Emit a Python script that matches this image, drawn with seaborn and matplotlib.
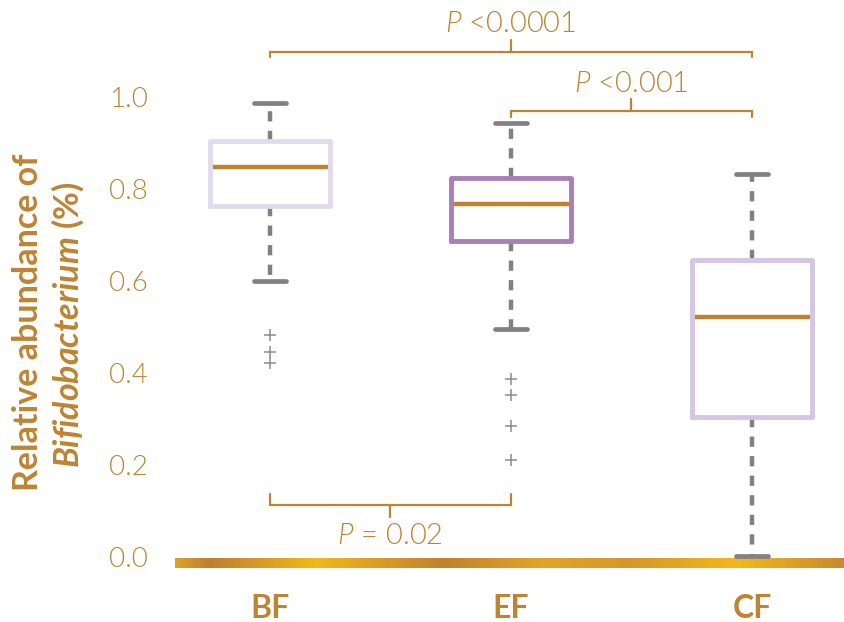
import numpy as np
import pandas as pd
import matplotlib
matplotlib.use("Agg")
import matplotlib.pyplot as plt
from matplotlib.colors import LinearSegmentedColormap
import seaborn as sns

# Five-number summaries of relative Bifidobacterium abundance per feeding group
groups = ["BF", "EF", "CF"]
whisker_low = [0.600, 0.496, 0.002]
q1 = [0.763, 0.687, 0.304]
median = [0.848, 0.767, 0.522]
q3 = [0.904, 0.824, 0.646]
whisker_high = [0.987, 0.943, 0.833]
outliers = [[0.483, 0.446, 0.422], [0.387, 0.352, 0.285, 0.211], []]

comparisons = [("BF", "CF"), ("EF", "CF"), ("BF", "EF")]
p_labels = ["$P$ <0.0001", "$P$ <0.001", "$P$ = 0.02"]
y_ticks = [0.0, 0.2, 0.4, 0.6, 0.8, 1.0]

GOLD = "#bd8433"
MEDIAN = "#c0822f"
GREY = "#808184"
FLIER = "#8c8c8f"
box_colors = ["#e3dbec", "#a77fba", "#d5c6e1"]


def observations(lo, a, m, b, hi, out):
    """Observation list whose quartiles and whisker ends equal the summary."""
    below = sorted(out) + [lo]
    k = len(below)
    return below + [a] * k + [m] * k + [b] * k + [hi]


rows = []
for i, g in enumerate(groups):
    for v in observations(whisker_low[i], q1[i], median[i], q3[i],
                          whisker_high[i], outliers[i]):
        rows.append({"group": g, "value": v})
df = pd.DataFrame(rows)

sns.set_theme(style="white")
plt.rcParams["font.family"] = ["Lato", "DejaVu Sans"]
plt.rcParams["mathtext.fontset"] = "custom"
plt.rcParams["mathtext.it"] = "Lato:italic:weight=300"
plt.rcParams["mathtext.rm"] = "Lato:weight=300"
plt.rcParams["mathtext.cal"] = "Lato:italic:bold"

fig = plt.figure(figsize=(8.44, 6.22), dpi=100)
ax = fig.add_axes([175 / 844, 47 / 622, 669 / 844, 575 / 622])

sns.boxplot(
    data=df, x="group", y="value", hue="group", order=groups, hue_order=groups,
    palette=dict(zip(groups, box_colors)), fill=False, width=0.5, linewidth=3.5,
    legend=False, whis=1.5, capwidths=0.133, ax=ax,
    boxprops=dict(zorder=3),
    medianprops=dict(color=MEDIAN, linewidth=3.2, zorder=2),
    whiskerprops=dict(color=GREY, linewidth=3.2, linestyle=(0, (2.3, 2.1))),
    capprops=dict(color=GREY, linewidth=3.4),
    flierprops=dict(marker="+", markeredgecolor=FLIER, markersize=9,
                    markeredgewidth=1.1),
)

xlim = (-0.394, 2.382)
ylim = (-0.0391, 1.2109)

# gold gradient baseline
bar_cmap = LinearSegmentedColormap.from_list(
    "baseline",
    [(0.0, "#dca02a"), (0.05, "#bf7f30"), (0.21, "#f3b81a"), (0.40, "#c1812e"),
     (0.55, "#e2a427"), (0.68, "#d5972b"), (0.845, "#f4b719"), (1.0, "#c98a30")],
)
ax.imshow(np.linspace(0, 1, 600)[None, :], cmap=bar_cmap, aspect="auto",
          extent=(xlim[0], xlim[1], -0.0239, -0.0043), zorder=0.5,
          interpolation="bilinear")

# significance brackets
levels = [1.098, 0.970, 0.113]
legs = [-0.011, -0.013, 0.024]
ticks = [0.026, 0.026, -0.026]
label_y = [1.141, 1.011, 0.028]
for (a, b), lab, y, leg, t, ly in zip(comparisons, p_labels, levels, legs, ticks, label_y):
    xa, xb = groups.index(a), groups.index(b)
    xm = (xa + xb) / 2
    ax.plot([xa, xa, xb, xb], [y + leg, y, y, y + leg], color=GOLD, lw=1.6,
            solid_joinstyle="miter", clip_on=False)
    ax.plot([xm, xm], [y, y + t], color=GOLD, lw=1.6, clip_on=False)
    ax.text(xm, ly, lab, ha="center", va="baseline", fontsize=21,
            fontweight=300, color=GOLD)

ax.set_xlim(*xlim)
ax.set_ylim(*ylim)
ax.set_yticks(y_ticks)
ax.set_yticklabels([f"{t:.1f}" for t in y_ticks], fontsize=20,
                   fontweight=300, color=GOLD)
ax.set_xticks(range(len(groups)))
ax.set_xticklabels(groups, fontsize=23, fontweight="bold", color=GOLD)
ax.tick_params(axis="y", length=0, pad=19.5)
ax.tick_params(axis="x", length=0, pad=13.5)
ax.set_xlabel("")
ax.set_ylabel("")
for s in ax.spines.values():
    s.set_visible(False)
ax.grid(False)

fig.text(28 / 844, 1 - 322 / 622, "Relative abundance of", rotation=90,
         ha="center", va="center", fontsize=24.5, fontweight="bold", color=GOLD)
fig.text(68 / 844, 1 - 325 / 622, r"$\mathcal{Bifidobacterium}$ (%)", rotation=90,
         ha="center", va="center", fontsize=24.5, fontweight="bold", color=GOLD)

fig.savefig("out.png", dpi=100)
